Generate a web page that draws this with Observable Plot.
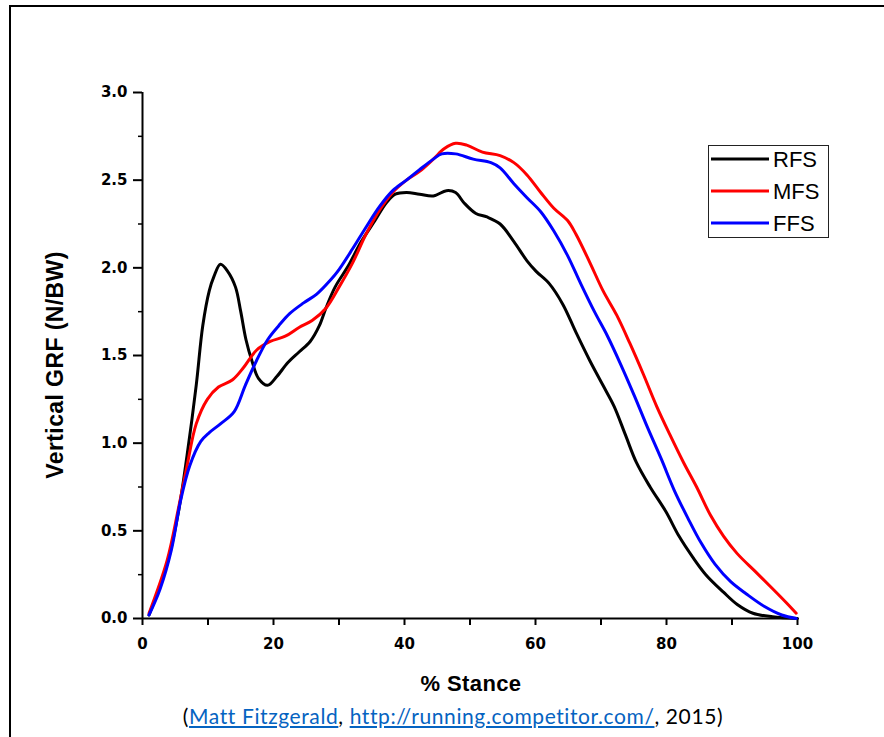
<!DOCTYPE html>
<html>
<head>
<meta charset="utf-8">
<script src="https://cdn.jsdelivr.net/npm/d3@7"></script>
<script src="https://cdn.jsdelivr.net/npm/@observablehq/plot@0.6"></script>
<style>
  html, body { margin: 0; padding: 0; background: #fff; }
  #page { position: relative; width: 884px; height: 737px; overflow: hidden; background: #fff; }
  #frame { position: absolute; left: 9px; top: 5px; right: -10px; bottom: -10px;
           border-left: 2px solid #000; border-top: 2px solid #000; }
  #chart { position: absolute; left: 0; top: 0; }
  #chart svg text { font-family: "DejaVu Sans", sans-serif; font-weight: bold; font-size: 15px; }
  .lbl { position: absolute; font-family: "Liberation Sans", Arial, sans-serif; font-weight: bold; color: #000; white-space: nowrap; letter-spacing: 0.4px; }
  #xlabel { left: 471px; top: 671px; font-size: 22px; transform: translateX(-50%); }
  #ylabel { left: 55px; top: 365px; font-size: 23px; transform: translate(-50%, -50%) rotate(-90deg); }
  #legend { position: absolute; left: 708px; top: 145px; width: 119px; height: 91px; border: 1px solid #222; background: #fff; }
  #caption { position: absolute; left: 0; width: 906px; top: 703px; text-align: center;
             font-family: Lato, "Open Sans", sans-serif; font-size: 21px; letter-spacing: 0.6px; color: #000; }
  #caption a { color: #0563C1; text-decoration: underline; }
</style>
</head>
<body>
<div id="page">
  <div id="frame"></div>
  <div id="chart"></div>
  <div class="lbl" id="xlabel">% Stance</div>
  <div class="lbl" id="ylabel">Vertical GRF (N/BW)</div>
  <div id="legend"></div>
  <div id="caption">(<a href="#">Matt Fitzgerald</a>, <a href="#">http://running.competitor.com/</a>, 2015)</div>
</div>
<script>
// ---- data ----
const seriesNames = ["RFS", "MFS", "FFS"];
const seriesColors = ["#000000", "#ff0000", "#0000ff"];

const rfsStance = [1.0,3.75,5.5,6.8,8.2,9.2,10.2,10.9,11.9,13.0,14.2,15.0,15.8,16.7,17.7,19.1,20.5,22.2,23.9,25.6,27.0,28.0,29.4,31.4,33.4,35.5,37.2,38.6,40.3,42.3,44.4,46.4,47.8,49.1,50.9,52.6,54.6,56.7,58.7,60.1,62.1,64.2,66.2,68.3,70.3,72.0,73.7,75.4,77.5,79.9,81.9,84.0,86.0,88.7,90.8,93.2,96.2,100];
const rfsGRF    = [0.02,0.31,0.61,0.93,1.33,1.67,1.87,1.95,2.02,1.98,1.89,1.75,1.59,1.47,1.37,1.33,1.38,1.46,1.52,1.58,1.67,1.77,1.89,2.01,2.15,2.27,2.37,2.42,2.43,2.42,2.41,2.44,2.43,2.37,2.31,2.29,2.25,2.15,2.04,1.98,1.91,1.79,1.63,1.47,1.33,1.21,1.05,0.89,0.75,0.61,0.47,0.35,0.25,0.15,0.08,0.03,0.01,0.0];

const mfsStance = [1.0,3.75,5.5,6.8,8.2,9.9,11.6,13.7,15.4,17.4,19.5,21.8,23.9,25.9,28.0,30.0,32.1,34.1,36.2,38.2,40.3,42.3,44.4,46.1,47.8,49.5,51.9,54.6,56.7,58.7,60.8,62.8,64.9,66.2,68.3,70.3,72.4,74.4,76.5,78.5,80.5,82.6,84.6,86.7,88.7,90.8,93.5,96.2,98.3,99.8];
const mfsGRF    = [0.03,0.33,0.63,0.87,1.11,1.25,1.32,1.36,1.43,1.53,1.58,1.61,1.66,1.70,1.77,1.89,2.03,2.19,2.33,2.43,2.50,2.55,2.62,2.68,2.71,2.70,2.66,2.64,2.60,2.53,2.43,2.34,2.27,2.19,2.03,1.87,1.73,1.57,1.39,1.21,1.05,0.89,0.75,0.59,0.47,0.37,0.27,0.17,0.09,0.03];

const ffsStance = [1.0,2.7,4.4,5.8,7.2,8.9,10.2,11.9,14.0,15.7,17.4,19.1,20.8,22.5,24.6,26.6,28.7,30.0,32.1,34.1,36.2,38.2,40.3,42.3,44.4,45.7,47.8,50.5,53.2,54.6,56.7,58.7,60.8,62.8,64.9,66.9,69.0,71.0,73.0,75.1,77.1,79.2,81.2,83.3,85.3,87.4,89.8,92.2,94.9,97.6,99.8];
const ffsGRF    = [0.02,0.17,0.39,0.67,0.87,1.01,1.06,1.11,1.18,1.33,1.47,1.59,1.67,1.74,1.80,1.85,1.93,1.99,2.11,2.23,2.35,2.44,2.50,2.56,2.62,2.65,2.65,2.62,2.60,2.57,2.48,2.40,2.32,2.21,2.07,1.91,1.75,1.61,1.45,1.27,1.09,0.91,0.73,0.57,0.43,0.31,0.21,0.14,0.07,0.02,0.00];

const xMajorTicks = [0, 20, 40, 60, 80, 100];
const xMinorTicks = [10, 30, 50, 70, 90];
const yMajorTicks = [0, 0.5, 1.0, 1.5, 2.0, 2.5, 3.0];
const yMinorTicks = [0.25, 0.75, 1.25, 1.75, 2.25, 2.75];

// ---- build rows ----
const toRows = (xs, ys, name) => xs.map((x, i) => ({stance: x, grf: ys[i], series: name}));
const rows = [
  ...toRows(rfsStance, rfsGRF, "RFS"),
  ...toRows(mfsStance, mfsGRF, "MFS"),
  ...toRows(ffsStance, ffsGRF, "FFS")
];

const chart = Plot.plot({
  width: 884,
  height: 700,
  marginLeft: 142,
  marginRight: 87,
  marginTop: 92,
  marginBottom: 82,
  style: {background: "transparent", overflow: "visible", color: "#000", fontSize: "15px", fontFamily: "DejaVu Sans, sans-serif", fontWeight: "bold"},
  x: {domain: [0, 100], label: null},
  y: {domain: [0, 3], label: null},
  color: {domain: seriesNames, range: seriesColors},
  marks: [
    Plot.axisY({ticks: yMinorTicks, tickSize: 4, tickFormat: () => "", label: null, strokeWidth: 1.5}),
    Plot.axisY({ticks: yMajorTicks, tickSize: 9, tickPadding: 6, tickFormat: d => d.toFixed(1), label: null, strokeWidth: 2, fontSize: 15}),
    Plot.axisX({ticks: xMinorTicks, tickSize: 7, tickFormat: () => "", label: null, strokeWidth: 2}),
    Plot.axisX({ticks: xMajorTicks, tickSize: 7, tickPadding: 13, tickFormat: d => String(d), label: null, strokeWidth: 2, fontSize: 15}),
    Plot.ruleX([0], {stroke: "#000", strokeWidth: 2}),
    Plot.ruleY([0], {stroke: "#000", strokeWidth: 2}),
    Plot.line(rows, {x: "stance", y: "grf", z: "series", stroke: "series", strokeWidth: 3, curve: "catmull-rom"})
  ]
});
document.getElementById("chart").appendChild(chart);

// ---- legend ----
const lg = d3.select("#legend").append("svg").attr("width", 119).attr("height", 91);
seriesNames.forEach((name, i) => {
  const y = 13 + i * 32;
  lg.append("line").attr("x1", 2).attr("x2", 60).attr("y1", y).attr("y2", y)
    .attr("stroke", seriesColors[i]).attr("stroke-width", 3);
  lg.append("text").attr("x", 64).attr("y", y).attr("dy", "0.36em")
    .attr("font-family", "'Liberation Sans', Arial, sans-serif").attr("font-size", 22)
    .attr("fill", "#000").text(name);
});
</script>
</body>
</html>
